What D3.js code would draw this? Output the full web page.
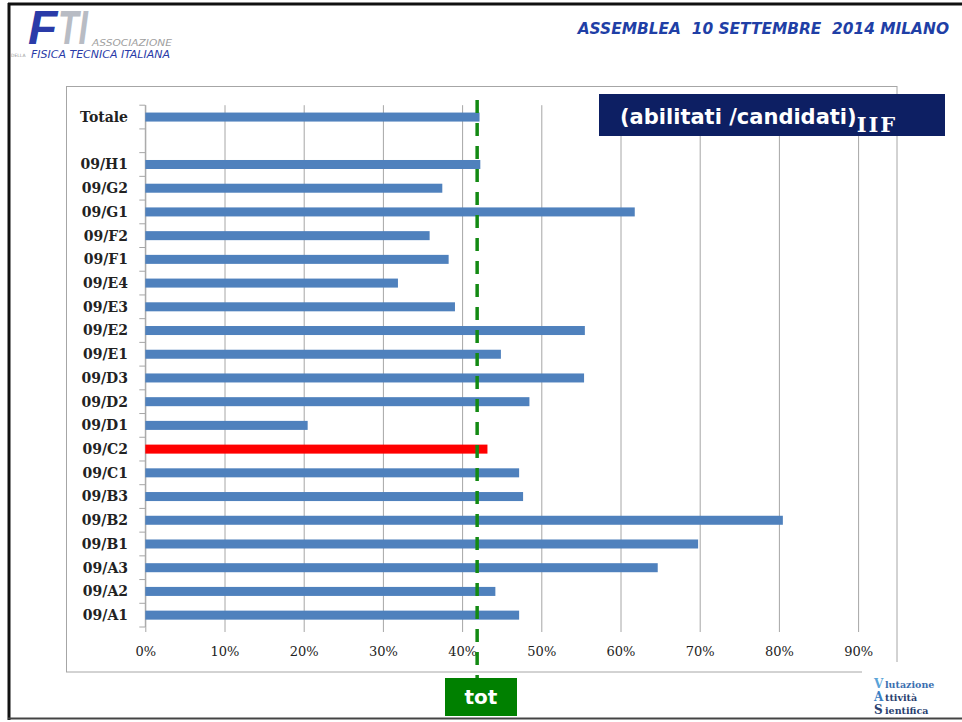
<!DOCTYPE html>
<head>
  <meta charset="utf-8">
  <style>
    body { margin: 0; background: #fff; }
    svg text { font-family: "DejaVu Serif", serif; }
    .grid { stroke: #a6a6a6; stroke-width: 1px; }
    .ylab { font-weight: bold; font-size: 14px; fill: #222; }
    .xlab { font-size: 13px; fill: #222; }
  </style>
</head>
<body>
<script src="https://d3js.org/d3.v7.min.js"></script>
<script>
  // categories from top to bottom (empty row between Totale and the sectors)
  var categories = ["Totale", "", "09/H1", "09/G2", "09/G1", "09/F2", "09/F1", "09/E4",
                    "09/E3", "09/E2", "09/E1", "09/D3", "09/D2", "09/D1", "09/C2",
                    "09/C1", "09/B3", "09/B2", "09/B1", "09/A3", "09/A2", "09/A1"];
  // abilitati / candidati, percent
  var values = [42.2, null, 42.3, 37.5, 61.8, 35.9, 38.3, 31.9,
                39.1, 55.5, 44.9, 55.4, 48.5, 20.5, 43.2,
                47.2, 47.7, 80.5, 69.8, 64.7, 44.2, 47.2];
  var highlight = ["09/C2"];
  var totValue = 41.9;
  var xTicks = [0, 10, 20, 30, 40, 50, 60, 70, 80, 90];

  var W = 962, H = 722;
  var plot = { left: 145.3, right: 858.1, top: 105.2, bottom: 627 };

  var svg = d3.select("body").append("svg")
      .attr("width", W)
      .attr("height", H);

  // slide frame
  svg.append("line").attr("x1", 8).attr("x2", W).attr("y1", 4).attr("y2", 4)
      .style("stroke", "#111").style("stroke-width", 3);
  svg.append("line").attr("x1", 9).attr("x2", 9).attr("y1", 3).attr("y2", 720)
      .style("stroke", "#111").style("stroke-width", 3);
  svg.append("line").attr("x1", 8).attr("x2", W).attr("y1", 718.5).attr("y2", 718.5)
      .style("stroke", "#444").style("stroke-width", 2);

  // header
  svg.append("text")
      .attr("x", 949).attr("y", 34)
      .style("text-anchor", "end")
      .style("white-space", "pre")
      .style("font-family", "'DejaVu Sans', sans-serif")
      .style("font-style", "italic")
      .style("font-weight", "bold")
      .style("font-size", "15.4px")
      .style("fill", "#1f3fa6")
      .text("ASSEMBLEA  10 SETTEMBRE  2014 MILANO");

  // FTI logo
  var logo = svg.append("g");
  logo.append("text").attr("x", 28).attr("y", 44)
      .style("font-family", "'Liberation Sans', sans-serif")
      .style("font-style", "italic").style("font-weight", "bold")
      .style("font-size", "48px").style("fill", "#2a3ba8")
      .text("F");
  logo.append("text").attr("x", 58).attr("y", 44)
      .attr("textLength", 30).attr("lengthAdjust", "spacingAndGlyphs")
      .style("font-family", "'Liberation Sans', sans-serif")
      .style("font-style", "italic").style("font-weight", "bold")
      .style("font-size", "48px").style("fill", "#b8bcc4")
      .text("TI");
  logo.append("text").attr("x", 92).attr("y", 46)
      .attr("textLength", 80).attr("lengthAdjust", "spacingAndGlyphs")
      .style("font-family", "'DejaVu Sans', sans-serif")
      .style("font-style", "italic").style("font-size", "9px")
      .style("fill", "#a0a0a0")
      .text("ASSOCIAZIONE");
  logo.append("text").attr("x", 31).attr("y", 58)
      .attr("textLength", 139).attr("lengthAdjust", "spacingAndGlyphs")
      .style("font-family", "'DejaVu Sans', sans-serif")
      .style("font-style", "italic").style("font-size", "10.5px")
      .style("fill", "#2a3ba8")
      .text("FISICA TECNICA ITALIANA");
  logo.append("text").attr("x", 11).attr("y", 57)
      .style("font-family", "'DejaVu Sans', sans-serif")
      .style("font-size", "4.5px").style("fill", "#999")
      .text("DELLA");

  // chart box
  svg.append("rect")
      .attr("x", 66.5).attr("y", 86.5)
      .attr("width", 830.5).attr("height", 585.5)
      .style("fill", "#fff")
      .style("stroke", "#a6a6a6");

  // scales
  var xScale = d3.scaleLinear().domain([0, 90]).range([plot.left, plot.right]);
  var yBand = d3.scaleBand().domain(categories).range([plot.top, plot.bottom]);
  var yBar = d3.scaleBand().domain(categories).range([plot.top, plot.bottom])
      .paddingInner(0.62).paddingOuter(0.31);

  // vertical grid lines with labels
  var xAxis = d3.axisBottom(xScale)
      .tickValues(xTicks)
      .tickSize(plot.bottom - plot.top + 5)
      .tickFormat(function (d) { return d + "%"; });

  var xa = svg.append("g")
      .attr("transform", "translate(0," + plot.top + ")")
      .call(xAxis);
  xa.select(".domain").remove();
  xa.selectAll(".tick line").attr("class", "grid");
  xa.selectAll(".tick text")
      .attr("class", "xlab")
      .attr("dy", 0)
      .attr("y", 656 - plot.top)
      .style("font-family", "'DejaVu Serif', serif");

  // y axis line and band-boundary ticks
  svg.append("line")
      .attr("x1", plot.left).attr("x2", plot.left)
      .attr("y1", plot.top).attr("y2", plot.bottom)
      .attr("class", "grid");
  svg.selectAll("line.ytick")
    .data(d3.range(categories.length + 1))
    .enter().append("line")
      .attr("class", "grid")
      .attr("x1", plot.left - 6).attr("x2", plot.left)
      .attr("y1", function (i) { return yBand.range()[0] + i * yBand.step(); })
      .attr("y2", function (i) { return yBand.range()[0] + i * yBand.step(); });

  svg.selectAll("text.ylab")
    .data(categories)
    .enter().append("text")
      .attr("class", "ylab")
      .attr("x", 128)
      .attr("y", function (d) { return yBand(d) + yBand.bandwidth() / 2; })
      .attr("dy", "0.35em")
      .style("text-anchor", "end")
      .text(function (d) { return d; });

  // bars
  var rows = categories.map(function (c, i) { return { cat: c, v: values[i] }; })
      .filter(function (d) { return d.v !== null; });

  svg.selectAll("rect.bar")
    .data(rows)
    .enter().append("rect")
      .attr("class", "bar")
      .attr("x", xScale(0))
      .attr("y", function (d) { return yBar(d.cat); })
      .attr("width", function (d) { return xScale(d.v) - xScale(0); })
      .attr("height", yBar.bandwidth())
      .style("fill", function (d) {
        return highlight.indexOf(d.cat) >= 0 ? "#ff0000" : "#4f81bd";
      });

  // total line
  svg.append("line")
      .attr("x1", xScale(totValue)).attr("x2", xScale(totValue))
      .attr("y1", 100).attr("y2", 682)
      .style("stroke", "#138a13")
      .style("stroke-width", 3.5)
      .style("stroke-dasharray", "13,10");

  svg.append("rect")
      .attr("x", 445).attr("y", 678)
      .attr("width", 72).attr("height", 38)
      .style("fill", "#008000");
  svg.append("text")
      .attr("x", 481).attr("y", 704)
      .style("text-anchor", "middle")
      .style("font-family", "'DejaVu Sans', sans-serif")
      .style("font-weight", "bold")
      .style("font-size", "20px")
      .style("fill", "#fff")
      .text("tot");

  // legend box
  svg.append("rect")
      .attr("x", 599).attr("y", 94)
      .attr("width", 346).attr("height", 42)
      .style("fill", "#0d1f63");
  var lt = svg.append("text")
      .attr("x", 620).attr("y", 124)
      .style("font-family", "'DejaVu Sans', sans-serif")
      .style("font-weight", "bold")
      .style("font-size", "21px")
      .style("fill", "#fff");
  lt.append("tspan").text("(abilitati /candidati)");
  lt.append("tspan")
      .attr("dy", 8)
      .style("font-size", "21px")
      .style("letter-spacing", "2px")
      .style("font-family", "'DejaVu Serif', serif")
      .text("IIF");

  // bottom right logo
  var vas = svg.append("g");
  vas.append("rect").attr("x", 862).attr("y", 662).attr("width", 100).attr("height", 55)
      .style("fill", "#fff");
  var vasLines = [
    { big: "V", rest: "lutazione", y: 688, c: "#5aa3d8" },
    { big: "A", rest: "ttività", y: 701, c: "#3b7fc4" },
    { big: "S", rest: "ientifica", y: 714, c: "#2a3f70" }
  ];
  vasLines.forEach(function (l) {
    vas.append("text").attr("x", 874).attr("y", l.y)
        .style("font-family", "'DejaVu Serif', serif").style("font-weight", "bold")
        .style("font-size", "12px").style("fill", l.c)
        .text(l.big);
    vas.append("text").attr("x", 885).attr("y", l.y)
        .style("font-family", "'DejaVu Serif', serif").style("font-weight", "bold")
        .style("font-size", "9.5px").style("fill", l.big === "V" ? "#3b6fb0" : "#2a3f70")
        .text(l.rest);
  });
</script>
</body>
</html>
